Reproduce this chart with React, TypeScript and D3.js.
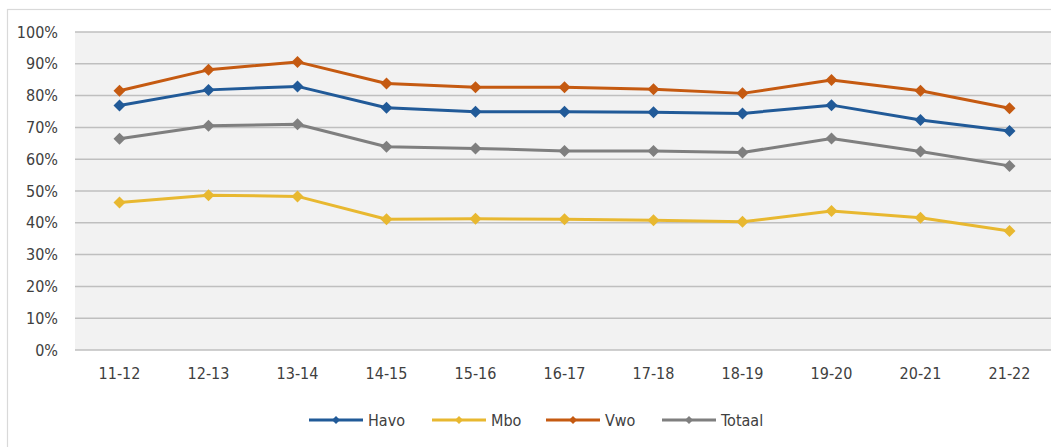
import React from 'react'
import * as d3 from 'd3'

const categories = ['11-12', '12-13', '13-14', '14-15', '15-16', '16-17', '17-18', '18-19', '19-20', '20-21', '21-22']
const havo = [76.9, 81.8, 82.9, 76.2, 74.9, 74.9, 74.8, 74.4, 77.0, 72.3, 68.9]
const mbo = [46.4, 48.7, 48.3, 41.1, 41.3, 41.1, 40.8, 40.3, 43.7, 41.6, 37.4]
const vwo = [81.5, 88.1, 90.6, 83.8, 82.6, 82.6, 82.0, 80.7, 84.9, 81.5, 76.0]
const totaal = [66.4, 70.5, 71.0, 63.9, 63.4, 62.6, 62.6, 62.1, 66.5, 62.4, 57.9]
const yTicks = [0, 10, 20, 30, 40, 50, 60, 70, 80, 90, 100]

const series = [
  { name: 'Havo', values: havo, color: '#215a98' },
  { name: 'Mbo', values: mbo, color: '#e8b830' },
  { name: 'Vwo', values: vwo, color: '#c55a11' },
  { name: 'Totaal', values: totaal, color: '#7f7f7f' },
]

const width = 1051
const height = 447
const margin = { top: 32, left: 75, bottom: 97 }
const font = '"DejaVu Sans Condensed", "DejaVu Sans", sans-serif'
const textColor = '#404040'

const diamond = (cx: number, cy: number, r: number) =>
  `M${cx},${cy - r}L${cx + r},${cy}L${cx},${cy + r}L${cx - r},${cy}Z`

const App = () => {
  const x = d3
    .scaleBand()
    .domain(categories)
    .range([margin.left, margin.left + 89 * categories.length])
  const y = d3
    .scaleLinear()
    .domain([0, 100])
    .range([height - margin.bottom, margin.top])

  const cx = (i: number) => x(categories[i])! + x.bandwidth() / 2

  const line = d3
    .line<number>()
    .x((d, i) => cx(i))
    .y((d) => y(d))

  // legend layout
  const legendX = [309, 432, 546, 662]
  const legendY = 420

  return (
    <svg width={width} height={height} style={{ position: 'absolute', left: 0, top: 0, background: '#fff' }}>
      <rect x={7.5} y={9.5} width={width + 10} height={height + 10} fill='#fff' stroke='#d9d9d9' strokeWidth={1.2} />
      <rect
        x={margin.left}
        y={margin.top}
        width={width - margin.left + 5}
        height={y(0) - y(100)}
        fill='#f2f2f2'
      />
      {yTicks.map((t) => (
        <g key={t}>
          <line x1={margin.left} x2={width} y1={y(t)} y2={y(t)} stroke='#bfbfbf' strokeWidth={1.5} />
          <text
            x={58}
            y={y(t)}
            dy='0.35em'
            textAnchor='end'
            fontFamily={font}
            fontSize={16}
            fill={textColor}
          >
            {t}%
          </text>
        </g>
      ))}
      {categories.map((c, i) => (
        <text key={c} x={cx(i)} y={379} textAnchor='middle' fontFamily={font} fontSize={16} fill={textColor}>
          {c}
        </text>
      ))}
      {series.map((s) => (
        <g key={s.name}>
          <path d={line(s.values)!} fill='none' stroke={s.color} strokeWidth={3} strokeLinejoin='round' />
          {s.values.map((v, i) => (
            <path key={i} d={diamond(cx(i), y(v), 6)} fill={s.color} />
          ))}
        </g>
      ))}
      {series.map((s, i) => (
        <g key={s.name} transform={`translate(${legendX[i]},${legendY})`}>
          <line x1={0} x2={54} y1={0} y2={0} stroke={s.color} strokeWidth={3} />
          <path d={diamond(27, 0, 4)} fill={s.color} />
          <text x={59} y={0} dy='0.35em' fontFamily={font} fontSize={16} fill={textColor}>
            {s.name}
          </text>
        </g>
      ))}
    </svg>
  )
}

export default App
